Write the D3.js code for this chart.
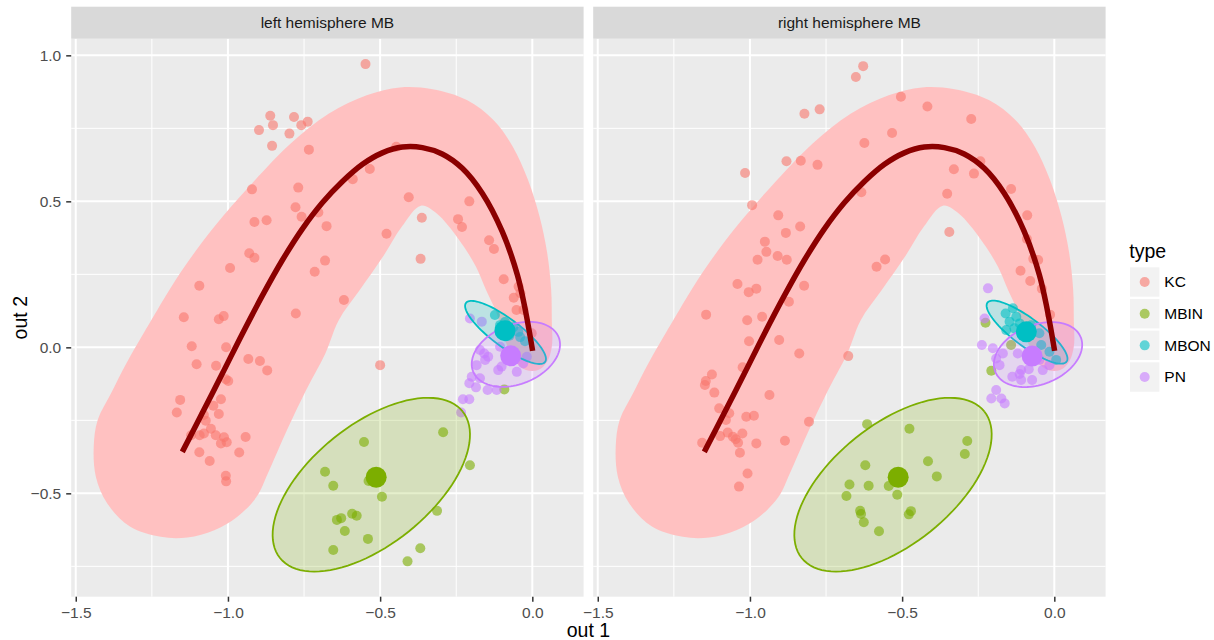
<!DOCTYPE html>
<html>
<head>
<meta charset="utf-8">
<script src="https://cdn.jsdelivr.net/npm/d3@7/dist/d3.min.js"></script>
<style>
  html, body { margin: 0; padding: 0; background: #fff; }
  svg { display: block; font-family: "Liberation Sans", Arial, Helvetica, sans-serif; }
</style>
</head>
<body>
<svg id="chart" width="1214" height="640"></svg>
<script>
// ---- data -------------------------------------------------------------
const facets = ["left hemisphere MB", "right hemisphere MB"];
const types = ["KC", "MBIN", "MBON", "PN"];
const typeColors = ["#F8766D", "#7CAE00", "#00BFC4", "#C77CFF"];
const xTicks = [-1.5, -1.0, -0.5, 0.0];
const yTicks = [-0.5, 0.0, 0.5, 1.0];
const xMinor = [-1.25, -0.75, -0.25];
const yMinor = [-0.75, -0.25, 0.25, 0.75];

// KC neurons
const kcLeft = [[-0.548,0.970],[-0.861,0.793],[-0.783,0.789],[-0.898,0.744],[-0.852,0.761],[-0.759,0.761],[-0.738,0.773],[-0.798,0.732],[-0.855,0.690],[-0.734,0.677],[-0.534,0.611],[-0.590,0.576],[-0.447,0.687],[-0.921,0.541],[-0.769,0.547],[-0.406,0.514],[-0.207,0.500],[-0.778,0.480],[-0.703,0.462],[-0.758,0.447],[-0.913,0.429],[-0.873,0.435],[-0.676,0.415],[-0.363,0.444],[-0.244,0.439],[-0.231,0.412],[-0.479,0.389],[-0.930,0.322],[-0.913,0.307],[-0.681,0.297],[-0.367,0.303],[-0.142,0.367],[-0.126,0.337],[-0.993,0.272],[-0.715,0.259],[-0.094,0.233],[-1.094,0.211],[-0.045,0.208],[-0.061,0.170],[-0.039,0.185],[-0.619,0.162],[-0.052,0.128],[-0.029,0.128],[-1.145,0.103],[-1.014,0.107],[-0.777,0.116],[-1.030,0.096],[-0.002,0.048],[-1.119,0.004],[-1.006,0.000],[-0.933,-0.040],[-0.895,-0.047],[-0.871,-0.079],[-1.103,-0.058],[-1.039,-0.063],[-1.007,-0.109],[-0.999,-0.115],[-1.157,-0.180],[-1.168,-0.223],[-1.023,-0.178],[-1.048,-0.200],[-1.030,-0.228],[-1.079,-0.232],[-1.073,-0.251],[-1.056,-0.279],[-1.079,-0.295],[-1.093,-0.301],[-1.121,-0.301],[-1.040,-0.301],[-1.013,-0.308],[-1.023,-0.329],[-1.004,-0.325],[-0.942,-0.307],[-1.094,-0.359],[-1.060,-0.389],[-0.963,-0.360],[-1.007,-0.440],[-1.006,-0.459],[-0.500,-0.061]];
const kcRight = [[-0.628,0.963],[-0.652,0.926],[-0.504,0.858],[-0.417,0.825],[-0.273,0.782],[-0.821,0.800],[-0.771,0.815],[-0.533,0.734],[-0.624,0.700],[-0.880,0.637],[-0.833,0.639],[-0.778,0.625],[-1.016,0.597],[-0.330,0.610],[-0.243,0.637],[-0.264,0.595],[-0.352,0.526],[-0.634,0.531],[-0.142,0.542],[-0.993,0.487],[-0.345,0.395],[-0.089,0.452],[-0.090,0.371],[-0.907,0.452],[-0.835,0.414],[-0.882,0.392],[-0.951,0.362],[-0.946,0.327],[-0.909,0.313],[-0.879,0.300],[-0.975,0.300],[-0.556,0.301],[-0.584,0.276],[-0.069,0.303],[-0.053,0.299],[-0.111,0.262],[-0.079,0.227],[-0.041,0.201],[-1.041,0.217],[-1.004,0.189],[-0.979,0.201],[-0.822,0.211],[-0.872,0.156],[-1.144,0.112],[-0.014,0.112],[-1.009,0.093],[-0.960,0.105],[-1.003,0.021],[-0.904,0.025],[-0.838,-0.021],[-1.125,-0.093],[-1.145,-0.115],[-1.148,-0.129],[-1.117,-0.155],[-1.024,-0.068],[-0.936,-0.163],[-1.101,-0.209],[-1.068,-0.226],[-1.079,-0.249],[-1.012,-0.238],[-0.987,-0.234],[-1.157,-0.327],[-1.098,-0.304],[-1.073,-0.292],[-1.056,-0.306],[-1.047,-0.315],[-1.039,-0.327],[-1.025,-0.295],[-0.979,-0.329],[-0.885,-0.320],[-1.033,-0.361],[-1.008,-0.432],[-1.036,-0.477],[-0.677,-0.030],[-0.806,-0.255]];

// MBIN neurons
const mbinLeft = [[-0.293,-0.291],[-0.553,-0.324],[-0.205,-0.404],[-0.681,-0.426],[-0.654,-0.474],[-0.538,-0.458],[-0.494,-0.512],[-0.313,-0.560],[-0.592,-0.570],[-0.577,-0.577],[-0.642,-0.591],[-0.628,-0.585],[-0.616,-0.629],[-0.540,-0.656],[-0.368,-0.688],[-0.654,-0.694],[-0.410,-0.733],[-0.092,-0.144]];
const mbinRight = [[-0.615,-0.263],[-0.476,-0.279],[-0.286,-0.321],[-0.294,-0.365],[-0.415,-0.390],[-0.386,-0.442],[-0.621,-0.404],[-0.673,-0.470],[-0.610,-0.474],[-0.544,-0.475],[-0.683,-0.509],[-0.516,-0.505],[-0.638,-0.560],[-0.635,-0.571],[-0.471,-0.561],[-0.478,-0.572],[-0.626,-0.599],[-0.576,-0.630],[-0.226,0.084],[-0.207,-0.080],[-0.142,0.008]];

// MBON neurons
const mbonLeft = [[-0.123,0.111],[-0.090,0.087],[-0.062,0.069],[-0.046,0.053],[-0.106,0.076],[-0.024,0.021],[-0.075,0.040],[-0.040,0.035]];
const mbonRight = [[-0.160,0.116],[-0.136,0.134],[-0.125,0.105],[-0.147,0.088],[-0.114,0.082],[-0.131,0.065],[-0.158,0.059],[-0.076,0.076],[-0.049,0.048],[-0.043,0.008],[-0.016,-0.015],[0.006,-0.043]];

// PN neurons
const pnLeft = [[-0.205,0.099],[-0.166,0.088],[-0.172,-0.009],[-0.145,-0.032],[-0.155,-0.043],[-0.183,-0.061],[-0.199,-0.101],[-0.207,-0.123],[-0.172,-0.106],[-0.185,-0.137],[-0.207,-0.178],[-0.228,-0.178],[-0.234,-0.223],[-0.147,-0.146],[-0.117,-0.146],[-0.112,-0.078],[-0.101,-0.066],[-0.051,-0.084],[-0.030,-0.055],[-0.018,-0.032],[-0.106,0.002],[-0.158,-0.021]];
const pnRight = [[-0.218,0.202],[-0.229,0.099],[-0.238,0.008],[-0.202,-0.003],[-0.191,-0.038],[-0.180,-0.061],[-0.169,-0.021],[-0.120,-0.021],[-0.109,-0.078],[-0.114,-0.091],[-0.084,-0.075],[-0.138,-0.101],[-0.109,-0.112],[-0.073,-0.112],[-0.038,-0.078],[-0.049,-0.043],[-0.016,-0.061],[-0.191,-0.146],[-0.207,-0.175],[-0.174,-0.175],[-0.163,-0.192]];

// group centroids (KC is summarised by the fitted curve instead)
const centroidTypes = ["MBIN", "MBON", "PN"];
const centroidsLeft = [[-0.513,-0.445],[-0.090,0.057],[-0.071,-0.029]];
const centroidsRight = [[-0.513,-0.445],[-0.092,0.053],[-0.073,-0.030]];

// confidence ellipses: centre, major semi-axis vector, minor semi-axis vector
const ellipseTypes = ["MBIN", "MBON", "PN"];
const ellipseCentresLeft = [[-0.529,-0.4705],[-0.088,0.051],[-0.054,-0.024]];
const ellipseCentresRight = [[-0.530,-0.4705],[-0.0896,0.052],[-0.0535,-0.0247]];
const ellipseMajor = [[0.300,0.251],[0.130,-0.101],[0.1404,0.0592]];
const ellipseMinor = [[0.123,-0.160],[0.0276,0.0384],[0.0366,-0.0943]];

// fitted principal curve through the KC cloud
const kcCurve = [[-1.150,-0.358],[-1.084,-0.224],[-1.018,-0.089],[-0.953,0.046],[-0.887,0.177],[-0.821,0.299],[-0.756,0.405],[-0.690,0.495],[-0.624,0.568],[-0.558,0.627],[-0.493,0.666],[-0.427,0.686],[-0.361,0.684],[-0.296,0.662],[-0.230,0.613],[-0.164,0.527],[-0.099,0.397],[-0.049,0.248],[-0.023,0.128],[0.001,-0.012]];

// outline of the band around the curve
const kcBand = [[-0.869,-0.432],[-0.906,-0.512],[-0.969,-0.580],[-1.045,-0.626],[-1.133,-0.651],[-1.221,-0.649],[-1.322,-0.614],[-1.397,-0.534],[-1.434,-0.443],[-1.441,-0.340],[-1.428,-0.249],[-1.384,-0.157],[-1.334,-0.055],[-1.284,0.036],[-1.252,0.093],[-1.158,0.253],[-1.045,0.413],[-0.931,0.550],[-0.793,0.699],[-0.668,0.801],[-0.542,0.864],[-0.435,0.890],[-0.328,0.884],[-0.215,0.847],[-0.127,0.778],[-0.064,0.687],[-0.014,0.573],[0.024,0.447],[0.049,0.322],[0.062,0.196],[0.064,0.093],[0.064,0.002],[0.048,-0.050],[0.019,-0.078],[-0.021,-0.078],[-0.054,-0.050],[-0.090,0.025],[-0.117,0.116],[-0.152,0.196],[-0.185,0.276],[-0.240,0.367],[-0.315,0.459],[-0.366,0.485],[-0.429,0.413],[-0.491,0.310],[-0.567,0.196],[-0.636,0.093],[-0.680,-0.021],[-0.743,-0.146],[-0.806,-0.283]];

const panelData = [
  { title: facets[0], points: { KC: kcLeft, MBIN: mbinLeft, MBON: mbonLeft, PN: pnLeft },
    centroids: centroidsLeft, ellipseCentres: ellipseCentresLeft },
  { title: facets[1], points: { KC: kcRight, MBIN: mbinRight, MBON: mbonRight, PN: pnRight },
    centroids: centroidsRight, ellipseCentres: ellipseCentresRight }
];

// ---- layout -----------------------------------------------------------
const panelLeft = [71.2, 593.2];
const panelTop = 38.7, panelBottom = 596.7, panelW = 512.4;
const stripTop = 6.7;
const color = d3.scaleOrdinal().domain(types).range(typeColors);

const x = d3.scaleLinear().domain([-1.515, 0.1685]).range([0, panelW]);
const y = d3.scaleLinear().domain([-0.854, 1.057]).range([panelBottom - panelTop, 0]);
const fmt = d3.format(".1f");

const svg = d3.select("#chart");

panelData.forEach((pd, i) => {
  const g = svg.append("g").attr("transform", `translate(${panelLeft[i]},${panelTop})`);
  const h = panelBottom - panelTop;

  // strip
  svg.append("rect").attr("x", panelLeft[i]).attr("y", stripTop)
    .attr("width", panelW).attr("height", panelTop - stripTop).attr("fill", "#D9D9D9");
  svg.append("text").attr("x", panelLeft[i] + panelW / 2).attr("y", (stripTop + panelTop) / 2)
    .attr("dy", "0.35em").attr("text-anchor", "middle").attr("fill", "#1A1A1A")
    .style("font-size", "15.5px").text(pd.title);

  // panel background and grid
  g.append("rect").attr("width", panelW).attr("height", h).attr("fill", "#EBEBEB");
  g.selectAll(".vminor").data(xMinor).join("line")
    .attr("x1", d => x(d)).attr("x2", d => x(d)).attr("y1", 0).attr("y2", h)
    .attr("stroke", "#fff").attr("stroke-width", 1);
  g.selectAll(".hminor").data(yMinor).join("line")
    .attr("y1", d => y(d)).attr("y2", d => y(d)).attr("x1", 0).attr("x2", panelW)
    .attr("stroke", "#fff").attr("stroke-width", 1);
  g.selectAll(".vmajor").data(xTicks).join("line")
    .attr("x1", d => x(d)).attr("x2", d => x(d)).attr("y1", 0).attr("y2", h)
    .attr("stroke", "#fff").attr("stroke-width", 2);
  g.selectAll(".hmajor").data(yTicks).join("line")
    .attr("y1", d => y(d)).attr("y2", d => y(d)).attr("x1", 0).attr("x2", panelW)
    .attr("stroke", "#fff").attr("stroke-width", 2);

  const layer = g.append("g");

  // band around the KC curve
  layer.append("path").datum(kcBand)
    .attr("d", d3.line().x(d => x(d[0])).y(d => y(d[1])).curve(d3.curveCatmullRomClosed.alpha(0.5)))
    .attr("fill", "#FFC1C1");

  // neuron points
  types.forEach(t => {
    layer.selectAll(null).data(pd.points[t]).join("circle")
      .attr("cx", d => x(d[0])).attr("cy", d => y(d[1])).attr("r", 5)
      .attr("fill", color(t)).attr("fill-opacity", 0.6);
  });

  // ellipses
  ellipseTypes.forEach((t, k) => {
    const c = pd.ellipseCentres[k], A = ellipseMajor[k], B = ellipseMinor[k];
    const pts = d3.range(0, 101).map(j => {
      const a = j / 100 * 2 * Math.PI;
      return [c[0] + A[0] * Math.cos(a) + B[0] * Math.sin(a), c[1] + A[1] * Math.cos(a) + B[1] * Math.sin(a)];
    });
    layer.append("path").datum(pts)
      .attr("d", d3.line().x(d => x(d[0])).y(d => y(d[1])))
      .attr("fill", color(t)).attr("fill-opacity", 0.2)
      .attr("stroke", color(t)).attr("stroke-width", 1.8);
  });

  // centroids
  layer.selectAll(null).data(pd.centroids).join("circle")
    .attr("cx", d => x(d[0])).attr("cy", d => y(d[1])).attr("r", 10.5)
    .attr("fill", (d, k) => color(centroidTypes[k]));

  // fitted curve
  layer.append("path").datum(kcCurve)
    .attr("d", d3.line().x(d => x(d[0])).y(d => y(d[1])).curve(d3.curveCatmullRom.alpha(0.5)))
    .attr("fill", "none").attr("stroke", "#8B0000").attr("stroke-width", 5.5);

  // x axis
  const xa = g.append("g").attr("transform", `translate(0,${h})`)
    .call(d3.axisBottom(x).tickValues(xTicks).tickFormat(fmt).tickSize(5).tickPadding(5.5));
  xa.select(".domain").remove();
  xa.selectAll("line").attr("stroke", "#333333").attr("stroke-width", 1.5);
  xa.selectAll("text").attr("fill", "#4D4D4D").style("font-size", "15.5px");

  if (i === 0) {
    const ya = g.append("g")
      .call(d3.axisLeft(y).tickValues(yTicks).tickFormat(fmt).tickSize(5).tickPadding(5));
    ya.select(".domain").remove();
    ya.selectAll("line").attr("stroke", "#333333").attr("stroke-width", 1.5);
    ya.selectAll("text").attr("fill", "#4D4D4D").style("font-size", "15.5px");
  }
});

// axis titles
svg.append("text").attr("x", (panelLeft[0] + panelLeft[1] + panelW) / 2).attr("y", 637)
  .attr("text-anchor", "middle").attr("fill", "#000").style("font-size", "19.5px").text("out 1");
svg.append("text").attr("transform", `translate(27,${(panelTop + panelBottom) / 2}) rotate(-90)`)
  .attr("text-anchor", "middle").attr("fill", "#000").style("font-size", "19.5px").text("out 2");

// legend
const legend = svg.append("g");
legend.append("text").attr("x", 1129.3).attr("y", 257.7).attr("fill", "#000")
  .style("font-size", "19.5px").text("type");
types.forEach((t, k) => {
  const top = 267.3 + k * 31.67;
  legend.append("rect").attr("x", 1130).attr("y", top).attr("width", 29.4).attr("height", 29.4)
    .attr("fill", "#F2F2F2");
  legend.append("circle").attr("cx", 1144.7).attr("cy", top + 14.7).attr("r", 5)
    .attr("fill", color(t)).attr("fill-opacity", 0.6);
  legend.append("text").attr("x", 1164.3).attr("y", top + 14.7).attr("dy", "0.35em")
    .attr("fill", "#000").style("font-size", "15.5px").text(t);
});
</script>
</body>
</html>
